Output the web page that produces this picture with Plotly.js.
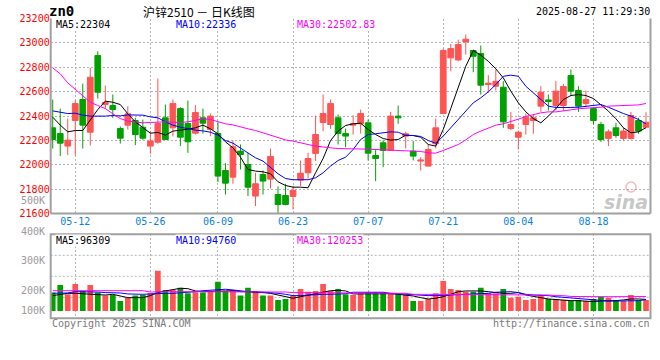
<!DOCTYPE html>
<html><head><meta charset="utf-8">
<script src="https://cdn.plot.ly/plotly-3.0.1.min.js"></script>
<style>html,body{margin:0;padding:0;background:#fff}#chart{width:660px;height:360px}</style>
</head><body><div id="chart"></div>
<script>
// ---------- data ----------
const dates = ['05-07','05-08','05-09','05-12','05-13','05-14','05-15','05-16','05-19','05-20','05-21','05-22','05-23','05-26','05-27','05-28','05-29','05-30',
'06-03','06-04','06-05','06-06','06-09','06-10','06-11','06-12','06-13','06-16','06-17','06-18','06-19','06-20','06-23','06-24','06-25','06-26','06-27','06-30',
'07-01','07-02','07-03','07-04','07-07','07-08','07-09','07-10','07-11','07-14','07-15','07-16','07-17','07-18','07-21','07-22','07-23','07-24','07-25','07-28','07-29','07-30','07-31',
'08-01','08-04','08-05','08-06','08-07','08-08','08-11','08-12','08-13','08-14','08-15','08-18','08-19','08-20','08-21','08-22','08-25','08-26','08-27'];
const open  = [22303,22256,22153,22363,22535,22267,22896,22494,22486,22297,22325,22363,22308,22153,22185,22385,22303,22461,22338,22259,
22385,22289,22256,21953,21898,22112,22002,21743,21920,21882,21756,21748,21740,21874,21934,22093,22347,22330,22385,22256,
22325,22336,22344,22076,22180,22117,22399,22235,22112,22030,21989,22172,22420,22877,22860,23008,22937,22912,22658,22644,
22636,22297,22226,22330,22363,22481,22532,22486,22486,22732,22609,22502,22461,22330,22216,22303,22216,22216,22363,22308];
const high  = [22535,22461,22379,22527,22666,22795,22931,22650,22576,22314,22481,22385,22371,22276,22707,22494,22535,22472,22527,22489,
22461,22420,22349,22013,22199,22166,22098,21934,21953,22133,21822,21844,21825,22035,22098,22404,22576,22535,22412,22297,
22407,22453,22371,22125,22199,22434,22486,22270,22194,22062,22166,22379,22953,22992,23027,23068,22945,22978,22735,22781,
22686,22434,22281,22420,22412,22645,22576,22686,22664,22781,22645,22609,22472,22352,22289,22344,22303,22434,22385,22431];
const low   = [22133,22071,22079,22079,22133,22158,22543,22461,22385,22174,22289,22161,22204,22090,22172,22204,22232,22153,22098,22248,
22256,22235,21857,21756,21844,21961,21743,21661,21756,21805,21600,21668,21633,21825,21887,22030,22276,22295,22166,22144,
22248,22256,22035,21866,21980,22112,22336,22133,22035,21953,21986,22133,22418,22767,22849,22904,22759,22576,22590,22609,
22303,22284,22125,22248,22254,22434,22445,22445,22440,22562,22434,22472,22330,22188,22153,22221,22199,22207,22254,22303];
const close = [22207,22177,22202,22502,22325,22718,22595,22511,22453,22218,22418,22248,22218,22194,22338,22207,22502,22226,22188,22429,
22341,22399,21907,21849,22147,22084,21816,21844,21866,22068,21674,21674,21789,21931,22051,22248,22420,22502,22256,22235,
22336,22420,22095,22051,22117,22399,22385,22254,22071,22038,22125,22303,22937,22953,22986,23030,22890,22653,22669,22685,
22352,22330,22267,22390,22385,22595,22519,22604,22642,22604,22481,22535,22363,22207,22270,22240,22276,22404,22276,22349];
const ma5  = [22390,22325,22270,22281,22281,22371,22453,22522,22513,22494,22418,22352,22308,22259,22265,22243,22276,22281,22292,22303,
22325,22295,22254,22188,22139,22062,21961,21948,21942,21926,21860,21830,21816,21816,21811,21934,22051,22199,22276,22322,
22336,22341,22289,22248,22215,22202,22207,22243,22240,22226,22166,22153,22290,22461,22631,22808,22937,22899,22849,22787,
22713,22604,22508,22434,22379,22344,22399,22461,22535,22568,22576,22568,22543,22489,22440,22377,22303,22262,22270,22304];
const ma10 = [22442,22431,22420,22423,22407,22399,22396,22399,22404,22401,22409,22409,22407,22393,22385,22352,22325,22308,22295,22284,
22278,22267,22243,22199,22177,22139,22098,22057,22030,21980,21926,21887,21877,21877,21877,21893,21934,21989,22035,22062,
22125,22207,22248,22254,22259,22270,22267,22240,22240,22232,22199,22177,22235,22303,22363,22434,22508,22549,22598,22658,
22726,22735,22726,22644,22590,22535,22481,22470,22467,22470,22472,22478,22486,22494,22472,22445,22420,22399,22371,22336];
const ma30 = [22795,22746,22672,22617,22568,22513,22486,22461,22418,22379,22358,22349,22344,22347,22352,22352,22349,22347,22352,22366,
22377,22371,22352,22336,22327,22308,22295,22281,22262,22248,22226,22204,22194,22183,22166,22153,22144,22139,22133,22133,
22133,22131,22128,22125,22120,22120,22117,22114,22112,22109,22098,22095,22117,22144,22166,22204,22248,22276,22303,22325,
22336,22352,22374,22396,22412,22426,22434,22434,22442,22453,22459,22464,22467,22472,22481,22483,22483,22489,22491,22502.83];
const volume = [153000,217000,139000,225000,169000,217000,153000,128000,133000,83000,111000,128000,133000,147000,336000,175000,175000,194000,147000,156000,
153000,167000,244000,167000,175000,128000,194000,167000,128000,128000,92000,100000,128000,183000,161000,167000,225000,167000,183000,139000,
133000,147000,153000,153000,153000,147000,139000,133000,83000,83000,100000,147000,250000,183000,175000,161000,161000,194000,147000,147000,
183000,111000,119000,92000,100000,133000,100000,100000,92000,83000,92000,83000,100000,119000,111000,92000,83000,133000,92000,92000];
const volMa5 = [128000,139000,147000,147000,144000,139000,139000,133000,139000,128000,111000,111000,111000,128000,153000,167000,181000,189000,186000,167000,
161000,161000,167000,167000,169000,161000,161000,153000,153000,147000,133000,119000,106000,119000,133000,147000,161000,169000,172000,167000,
142000,142000,144000,147000,147000,144000,139000,133000,125000,111000,100000,106000,119000,139000,161000,167000,169000,167000,161000,153000,
147000,147000,153000,133000,119000,111000,100000,94000,92000,86000,86000,81000,78000,83000,83000,86000,92000,100000,100000,96309];
const volMa10 = [147000,147000,150000,161000,161000,161000,158000,153000,153000,150000,142000,139000,139000,142000,147000,147000,147000,150000,153000,161000,
169000,175000,181000,181000,175000,167000,161000,161000,158000,153000,147000,139000,128000,128000,133000,133000,139000,139000,142000,144000,
156000,156000,156000,156000,156000,147000,142000,139000,133000,128000,128000,128000,131000,133000,133000,139000,142000,144000,147000,156000,
161000,161000,153000,139000,133000,133000,128000,119000,114000,106000,100000,94000,92000,86000,83000,83000,83000,86000,86000,94760];
const volMa30 = [169000,169000,169000,169000,169000,169000,169000,169000,169000,169000,169000,169000,169000,158000,161000,161000,161000,161000,161000,161000,
161000,161000,161000,161000,161000,161000,161000,158000,158000,158000,158000,158000,153000,153000,153000,153000,153000,153000,153000,153000,
153000,153000,153000,153000,153000,147000,147000,147000,139000,139000,139000,139000,139000,139000,139000,139000,139000,139000,139000,139000,
139000,139000,139000,139000,139000,139000,133000,128000,128000,121000,119000,119000,119000,119000,119000,120000,120000,120000,120000,120253];
const dateTicks = ['05-12','05-26','06-09','06-23','07-07','07-21','08-04','08-18'];
const priceTicks = [21600,21800,22000,22200,22400,22600,22800,23000,23200];
const volTickLabels = ['500K','400K','300K','200K','100K'];
const contract = 'zn0';
const titleText = '沪锌2510 － 日K线图';
const stamp = '2025-08-27 11:29:30';

// ---------- styling ----------
const W = 660, H = 360;
const RED = '#ff5454', GREEN = '#00a000', MONO = 'DejaVu Sans Mono';
const GRID = '#b4b4b4', FRAME = '#a0a0a0';
const px = v => v / W, py = v => 1 - v / H;
const X0 = 50.7, X1 = 650.5, MT = 18.5, MB = 213.5, VT = 234.3, VB = 318.3;
const volLabelY = [200.7, 231, 260.7, 290.3, 310];

const idx = dates.map((d, i) => i);
const last = dates.length - 1;
const volColors = idx.map(i => close[i] >= open[i] ? RED : GREEN);

const traces = [
  {type:'candlestick', x: idx, open, high, low, close, whiskerwidth: 0, hoverinfo:'skip',
   increasing:{line:{color:RED, width:1}, fillcolor:RED},
   decreasing:{line:{color:GREEN, width:1}, fillcolor:GREEN}, xaxis:'x', yaxis:'y'},
  {type:'scatter', mode:'lines', x: idx, y: ma5,  line:{color:'#000000', width:1}, hoverinfo:'skip', xaxis:'x', yaxis:'y'},
  {type:'scatter', mode:'lines', x: idx, y: ma10, line:{color:'#0000ff', width:1}, hoverinfo:'skip', xaxis:'x', yaxis:'y'},
  {type:'scatter', mode:'lines', x: idx, y: ma30, line:{color:'#ff00ff', width:1}, hoverinfo:'skip', xaxis:'x', yaxis:'y'},
  {type:'bar', x: idx, y: volume, width: 0.76, marker:{color: volColors, line:{width:0}}, hoverinfo:'skip', xaxis:'x', yaxis:'y2'},
  {type:'scatter', mode:'lines', x: idx, y: volMa5,  line:{color:'#000000', width:1}, hoverinfo:'skip', xaxis:'x', yaxis:'y2'},
  {type:'scatter', mode:'lines', x: idx, y: volMa10, line:{color:'#0000ff', width:1}, hoverinfo:'skip', xaxis:'x', yaxis:'y2'},
  {type:'scatter', mode:'lines', x: idx, y: volMa30, line:{color:'#ff00ff', width:1}, hoverinfo:'skip', xaxis:'x', yaxis:'y2'}
];

const ann = [];
const txt = (x, y, text, color, anchor, extra) => ann.push(Object.assign({
  xref:'paper', yref:'paper', x: px(x), y: py(y), xanchor: anchor || 'left', yanchor:'middle',
  text, showarrow:false, font:{family:MONO, size:10, color}}, extra || {}));

txt(48, 10.5, contract, '#000', 'left', {font:{family:MONO, size:14, color:'#000', weight:'bold'}, borderpad:0});
txt(141, 11, titleText, '#000', 'left', {font:{family:'Noto Sans CJK SC', size:12, color:'#000'}});
txt(652, 11, stamp, '#000', 'right');
// price MA legend
txt(55, 25, 'MA5:' + ma5[last], '#000', 'left', {bgcolor:'#fff', borderpad:0});
txt(175, 25, 'MA10:' + ma10[last], '#0000ff', 'left', {bgcolor:'#fff', borderpad:0});
txt(296, 25, 'MA30:' + ma30[last], '#ff00ff', 'left', {bgcolor:'#fff', borderpad:0});
// volume MA legend
txt(55, 240.5, 'MA5:' + volMa5[last], '#000', 'left', {bgcolor:'#fff', borderpad:0});
txt(175, 240.5, 'MA10:' + volMa10[last], '#0000ff', 'left', {bgcolor:'#fff', borderpad:0});
txt(296, 240.5, 'MA30:' + volMa30[last], '#ff00ff', 'left', {bgcolor:'#fff', borderpad:0});
// volume axis labels
volTickLabels.forEach((t, k) => txt(46.5, volLabelY[k], t, '#9a9a9a', 'right'));
// footer
txt(50, 323.5, 'Copyright 2025 SINA.COM', '#7a7a7a', 'left');
txt(652, 323.5, 'http://finance.sina.com.cn', '#7a7a7a', 'right');
// watermark
txt(626, 202, 'sina', 'rgba(150,150,150,0.55)', 'center', {font:{family:'DejaVu Sans', size:19, color:'rgba(150,150,150,0.55)', weight:'bold', style:'italic'}});

const shapes = [
  ...[0.25, 0.5, 0.75].map(f => ({type:'line', xref:'x domain', yref:'y2 domain', x0:0, x1:1, y0:f, y1:f,
     line:{color:GRID, width:1, dash:'2px,2px'}, layer:'below'})),
  {type:'line', xref:'x domain', yref:'y domain', x0:0, x1:0, y0:0, y1:1, line:{color:FRAME, width:2}},
  {type:'line', xref:'x domain', yref:'y domain', x0:0, x1:1, y0:0, y1:0, line:{color:FRAME, width:2}},
  {type:'line', xref:'x domain', yref:'y domain', x0:1, x1:1, y0:0, y1:1, line:{color:FRAME, width:2}},
  {type:'rect', xref:'x domain', yref:'y2 domain', x0:0, x1:1, y0:0, y1:1, line:{color:FRAME, width:2}},
  {type:'circle', xref:'paper', yref:'paper', x0:px(626), x1:px(636), y0:py(192), y1:py(182),
   line:{color:'rgba(235,120,120,0.5)', width:1.5}, fillcolor:'rgba(255,255,255,0)'}
];

const layout = {
  width: W, height: H, margin:{l:0, r:0, t:0, b:0},
  paper_bgcolor:'#fff', plot_bgcolor:'#fff', showlegend:false,
  boxgap: 0.24, boxgroupgap: 0,
  xaxis:{domain:[px(X0), px(X1)], range:[-0.27, last + 0.6], anchor:'y',
    tickmode:'array', tickvals: dateTicks.map(d => dates.indexOf(d)), ticktext: dateTicks,
    tickfont:{family:MONO, size:10, color:'#0a7fe8'}, ticks:'', showgrid:true, gridcolor:GRID,
    griddash:'2px,2px', gridwidth:1, zeroline:false, showline:false, rangeslider:{visible:false}, fixedrange:true},
  yaxis:{domain:[py(MB), py(MT)], range:[priceTicks[0], priceTicks[priceTicks.length-1]], anchor:'x',
    tickmode:'array', tickvals: priceTicks, ticktext: priceTicks.map(String),
    tickfont:{family:MONO, size:10, color:'#ff0000'}, ticks:'', showgrid:true, gridcolor:GRID,
    griddash:'2px,2px', gridwidth:1, zeroline:false, showline:false, fixedrange:true},
  yaxis2:{domain:[py(VB), py(VT)], range:[-61000, 639000], anchor:'x', showticklabels:false,
    showgrid:false, zeroline:false, showline:false, ticks:'', fixedrange:true},
  annotations: ann, shapes
};

Plotly.newPlot('chart', traces, layout, {displayModeBar:false, staticPlot:true});
</script></body></html>
